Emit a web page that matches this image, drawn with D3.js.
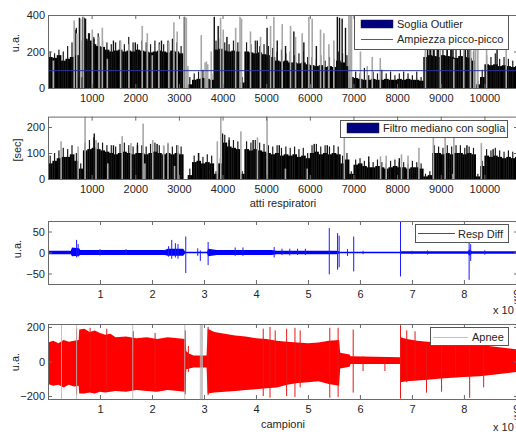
<!DOCTYPE html>
<html><head><meta charset="utf-8">
<script src="https://cdn.jsdelivr.net/npm/d3@7"></script>
<style>
body{margin:0;background:#fff;}
svg{display:block;font-family:"Liberation Sans",Arial,sans-serif;}
</style></head><body>
<svg id="c" width="516" height="432"></svg>
<script>
// ---------------- DATA ----------------
const binSize = 100; // breaths per bin
const breathMax = 10770;
const breathTicks = [1000,2000,3000,4000,5000,6000,7000,8000,9000,10000];

// Panel 1: peak-to-peak amplitude (typical level per 100 breaths)
const ampLevel = [170,165,180,150,160,170, 180,60, 270,260,240,230,225,
  210,200,205,210,200,205,200,210,205,200,195,200,205,200,195,205,200,190,
  0,20, 45,50,55,50,45, 210,215,205,200,205,200, 30,
  200,195,190,195,185,180,170, 150,145,150,140,140,135,140,130,
  125,120,125,115,120,115, 150,140,120,60,
  55,50,45,45,50,45,45,50,45,45,50,45,50,45,45,40,
  170,180,175,170,180,175,170,165,175,170,165,150, 20,60,
  130,125,130,120,125,120,115,120];
// tallest thin bar in each 100-breath bin
const ampPeak = [200,190,210,200,230,250, 330,260, 330,300,280,300,260,
  250,240,250,260,240,280,250,240,260,250,240,260,250,240,260,270,250,230,
  0,60, 80,90,100,90,80, 260,270,250,240,260,250, 60,
  250,240,260,230,240,230,220, 200,210,190,200,180,190,200,170,
  170,160,180,150,170,160, 200,190,180,100,
  90,80,110,70,90,80,100,80,90,70,80,90,80,70,90,60,
  230,250,240,230,250,240,230,220,240,230,220,200, 40,100,
  180,170,190,160,170,160,150,160];
// outlier bars (gray): [breath, value]
const ampGray = [[123,150],[600,370],[660,300],[750,380],[810,390],[1015,320],[1170,280],[1245,330],
  [1360,160],[1665,260],[1855,240],[2160,340],[2275,300],[2390,180],[2540,240],[2770,250],[2885,360],
  [2960,310],[3115,390],[3170,385],[3205,120],[3512,290],[3600,140],[3630,145],[3660,130],[3740,200],
  [3955,385],[4015,320],[4300,330],[4400,390],[4435,380],[4640,310],[4870,280],[5100,340],[5176,390],
  [5367,350],[5558,340],[5673,280],[5825,300],[5978,390],[6054,380],[6245,320],[6321,300],[6436,240],
  [6550,260],[6895,400],[6925,400],[6955,400],[7160,200],[7315,120],[7430,170],[7614,164],[8650,390],
  [8990,300],[9300,160],[9527,390],[9680,390],[9760,390],[9800,390],[9850,390],[10050,250],[10500,230]];
// tall normal bars (black): [breath, value]
const ampBlack = [[640,320],[720,385],[800,390],[830,385],[860,380],[930,300],[1055,270],[1500,260],
  [2000,250],[2600,260],[3130,390],[3810,390],[3900,340],[4100,280],[4795,260],[5020,330],[5253,260],
  [5443,230],[5634,310],[5863,250],[6150,230],[6630,390],[6680,385],[6740,380],[6817,330],[8700,390],
  [8770,390],[8830,380],[8920,390],[9145,300],[9230,390],[9280,380],[9565,390],[9620,380],[9680,385],
  [10290,230]];
const ampThreshold = 95;
const ampTicks = [0,200,400];

// Panel 2: breath intervals (typical level per 100 breaths)
const intLevel = [60,70,80,85,85, 95,70,40,110, 115,120,115,110,105,
  100,95,100,105,100,95,100,100,95,100,105,100,95,100,95,100,95,
  0,15, 65,70,60,65,60, 20,60, 140,125,120,115, 20,
  115,110,115,110,105,100, 95,100,90,95,90,95,85,90, 80,
  100,105,95,100,95,100,95, 60,75,20,
  55,60,50,45,45,50,45,40,45,50,45,45,40,45,45,40, 10,15,
  100,100,95,100,95,100,100,95,100,95, 10,50,
  90,85,90,85,80,85,80,85];
const intPeak = [90,100,110,120,115, 130,100,60,140, 150,160,140,140,130,
  130,125,135,140,130,125,140,130,125,135,140,130,125,135,125,130,125,
  0,40, 90,100,85,95,90, 30,80, 170,160,150,145, 30,
  145,140,150,140,135,130, 125,130,120,125,120,125,115,120, 100,
  130,135,125,130,125,130,125, 90,100,30,
  75,80,70,65,65,75,65,60,70,75,65,65,60,70,65,60, 20,30,
  130,125,120,130,125,130,130,120,125,120, 20,70,
  115,110,120,110,105,110,105,110];
const intGray = [[300,145],[690,125],[850,240],[1100,150],[1370,60],[1700,165],[1900,138],[2180,213],
  [2220,60],[2400,150],[2650,130],[2750,140],[2900,50],[2980,130],[3880,145],[3960,240],[4420,183],
  [4800,160],[5020,240],[5440,40],[5940,40],[6790,170],[7620,87],[7750,90],[8100,95],[8250,90],
  [8500,120],[8830,164],[9100,164],[9280,20],[9300,164],[9930,138]];
const intBlack = [[1060,175],[1500,130],[2050,130],[2500,135],[3450,100],[4000,175],[4150,150],
  [4700,150],[5300,130],[6100,135],[6400,130],[7350,87],[8050,80],[9600,130],[10200,115]];
const intTicks = [0,100,200];

// Panel 3: Resp Diff (x in units of 1e5 samples)
const sampleMax = 9.04;
const sampleTicks = [1,2,3,4,5,6,7,8,9];
const diffX  = [0,0.44,0.46,0.6,0.62,2.25,2.3,2.6,2.64,3.06,3.08,3.25,4.3,4.4,5.55,5.62,6.77,6.79,8.08,8.1,8.15,9.04];
const diffHi = [4,4,12,10,6,6,9,9,2,2,9,6,6,4,4,1.5,1.5,3,3,8,3,3];
const diffLo = [-4,-4,-9,-8,-6,-6,-8,-8,-2,-2,-9,-6,-6,-4,-4,-1.5,-1.5,-3,-3,-8,-3,-3];
const diffSpikes = [[0.55,30,-12],[0.58,20,-10],[1.0,8,-7],[1.5,8,-6],[2.32,15,-10],[2.38,30,-15],
  [2.45,22,-12],[2.5,20,-15],[2.65,38,-49],[2.88,10,-8],[2.93,5,-20],[3.08,25,-30],[3.6,12,-8],
  [3.75,12,-8],[4.35,13,-12],[4.5,9,-6],[4.65,9,-7],[4.8,9,-6],[4.95,9,-6],[5.41,58,-52],
  [5.57,46,-41],[5.6,40,-35],[5.76,8,-8],[5.88,38,-45],[6.06,4,-4],[6.78,75,-57],[7.0,4,-4],
  [7.3,5,-5],[8.1,26,-65],[8.13,20,-20],[8.4,5,-5]];
const diffTicks = [-50,0,50];

// Panel 4: Apnee (raw signal envelope)
const redX  = [0,0.1,0.2,0.3,0.4,0.5,0.59,0.6,0.7,0.8,0.9,1.0,1.1,1.2,1.3,1.5,1.7,1.9,2.1,2.3,2.5,2.64,
  2.66,2.72,2.8,3.05,3.07,3.2,3.4,3.6,3.8,4.0,4.2,4.4,4.6,4.8,5.0,5.2,5.4,5.6,5.62,5.8,5.82,6.77,
  6.78,6.9,7.1,7.3,7.5,7.7,8.0,8.3,8.6,9.04];
const redHi = [110,120,105,125,115,120,125,185,190,170,180,165,155,160,140,145,135,140,130,140,135,130,
  60,45,35,35,190,170,160,150,145,135,130,120,115,110,105,110,120,125,50,40,30,25,
  140,130,120,115,110,105,100,95,85,70];
const redLo = [-130,-140,-135,-150,-135,-145,-140,-185,-185,-180,-185,-175,-180,-175,-170,-175,-165,-170,-175,-165,-170,-175,
  -45,-40,-35,-35,-185,-180,-175,-170,-165,-160,-155,-150,-135,-125,-120,-115,-130,-140,-40,-30,-15,-15,
  -120,-115,-110,-105,-100,-95,-90,-85,-75,-60];
const redSpikes = [[0.55,190,-190],[0.81,195,-150],[1.13,190,-170],[1.64,175,-160],[2.06,165,-175],
  [2.64,180,-190],[2.70,90,-60],[3.08,200,-195],[4.14,190,-200],[4.27,200,-210],[4.37,180,-150],
  [4.59,190,-200],[4.75,195,-205],[4.85,180,-150],[5.42,195,-210],[5.58,195,-205],[5.87,185,-180],
  [6.06,30,-55],[6.48,20,-55],[6.78,210,-215],[6.90,180,-120],[7.06,175,-110],[7.28,90,-180],
  [7.57,90,-175],[7.84,130,-90],[8.11,150,-210],[8.38,80,-150]];
const apneeMarks = [0.26,0.55,1.63,2.63,2.93,2.95,2.97];
const redTicks = [-200,0,200];

// ---------------- DRAW ----------------
const svg = d3.select("#c");
const L = 48, R = 518;
const axisCol = "#6a6a6a", textCol = "#262626";

function frame(g, y, id) {
  const [y0, y1] = y.range();
  g.append("clipPath").attr("id", id).append("rect")
    .attr("x", L).attr("y", y1).attr("width", R - L).attr("height", y0 - y1);
  return g.append("g").attr("clip-path", `url(#${id})`);
}
function axes(g, x, y, xt, yt, fmtX) {
  const [y0, y1] = y.range();
  const style = s => { s.select(".domain").remove();
    s.selectAll(".tick line").attr("stroke", axisCol);
    s.selectAll(".tick text").attr("fill", textCol).style("font-size", "11px").style("font-family", "Liberation Sans, Arial, sans-serif"); };
  g.append("g").attr("transform", `translate(0,${y0})`)
    .call(d3.axisBottom(x).tickValues(xt).tickFormat(fmtX).tickSize(-4).tickPadding(6.5)).call(style);
  g.append("g").attr("transform", `translate(0,${y1})`)
    .call(d3.axisTop(x).tickValues(xt).tickFormat("").tickSize(-4)).call(style);
  g.append("g").attr("transform", `translate(${L},0)`)
    .call(d3.axisLeft(y).tickValues(yt).tickSize(-4).tickPadding(3)).call(style);
  g.append("g").attr("transform", `translate(${R},0)`)
    .call(d3.axisRight(y).tickValues(yt).tickFormat("").tickSize(-4)).call(style);
  g.append("rect").attr("x", L + 0.5).attr("y", y1 + 0.5).attr("width", R - L).attr("height", y0 - y1)
    .attr("fill", "none").attr("stroke", axisCol).attr("stroke-width", 1);
}
function ylabel(txt, x, y) {
  svg.append("text").attr("transform", `translate(${x},${y}) rotate(-90)`)
    .attr("text-anchor", "middle").attr("fill", textCol).style("font-size", "11px").text(txt);
}
function barsPanel(level, peak, gray, black, x, y, id) {
  const g = svg.append("g");
  const c = frame(g, y, id);
  const y0 = y(0);
  c.selectAll("rect.lv").data(level).join("rect")
    .attr("x", (d, i) => x(i * binSize)).attr("width", (d, i) => x((i + 1) * binSize) - x(i * binSize) + 0.3)
    .attr("y", d => y(d)).attr("height", d => y0 - y(d)).attr("fill", "#000");
  c.selectAll("rect.pk").data(peak).join("rect")
    .attr("x", (d, i) => x(i * binSize + 50) - 0.6).attr("width", 1.2)
    .attr("y", d => y(d)).attr("height", d => y0 - y(d)).attr("fill", "#1a1a1a");
  c.selectAll("rect.bk").data(black).join("rect")
    .attr("x", d => x(d[0]) - 0.7).attr("width", 1.4)
    .attr("y", d => y(d[1])).attr("height", d => y0 - y(d[1])).attr("fill", "#111");
  c.selectAll("rect.gr").data(gray).join("rect")
    .attr("x", d => x(d[0]) - 0.8).attr("width", 1.6)
    .attr("y", d => y(d[1])).attr("height", d => y0 - y(d[1])).attr("fill", "#a8a8a8");
  return { g, c };
}

// Panel 1
const x1 = d3.scaleLinear([0, breathMax], [L, R]);
const y1 = d3.scaleLinear([0, 400], [88, 15]);
const p1 = barsPanel(ampLevel, ampPeak, ampGray, ampBlack, x1, y1, "cp1");
p1.c.append("line").attr("x1", L).attr("x2", R).attr("y1", y1(ampThreshold)).attr("y2", y1(ampThreshold))
  .attr("stroke", "#2a35a0").attr("stroke-width", 1);
axes(p1.g, x1, y1, breathTicks, ampTicks, d3.format("d"));
ylabel("u.a.", 19, 43);
{ const lg = p1.g.append("g");
  lg.append("rect").attr("x", 354.5).attr("y", 15.5).attr("width", 154).attr("height", 34).attr("fill", "#fff").attr("stroke", "#555");
  lg.append("rect").attr("x", 361).attr("y", 20).attr("width", 32).attr("height", 8).attr("fill", "#000080").attr("stroke", "#222").attr("stroke-width", 0.5);
  lg.append("text").attr("x", 397).attr("y", 28).attr("fill", textCol).style("font-size", "11px").text("Soglia Outlier");
  lg.append("line").attr("x1", 361).attr("x2", 393).attr("y1", 39.5).attr("y2", 39.5).attr("stroke", "#4a55b0");
  lg.append("text").attr("x", 397).attr("y", 43).attr("fill", textCol).style("font-size", "11px").text("Ampiezza picco-picco");
}

// Panel 2
const y2 = d3.scaleLinear([0, 240], [179, 116.6]);
const p2 = barsPanel(intLevel, intPeak, intGray, intBlack, x1, y2, "cp2");
axes(p2.g, x1, y2, breathTicks, intTicks, d3.format("d"));
ylabel("[sec]", 21, 150);
svg.append("text").attr("x", (L + R) / 2).attr("y", 207).attr("text-anchor", "middle").attr("fill", textCol)
  .style("font-size", "11px").text("atti respiratori");
{ const lg = p2.g.append("g");
  lg.append("rect").attr("x", 340.5).attr("y", 120.5).attr("width", 167).attr("height", 17).attr("fill", "#fff").attr("stroke", "#555");
  lg.append("rect").attr("x", 347).attr("y", 123).attr("width", 32).attr("height", 10).attr("fill", "#000080").attr("stroke", "#222").attr("stroke-width", 0.5);
  lg.append("text").attr("x", 383).attr("y", 132).attr("fill", textCol).style("font-size", "11px").text("Filtro mediano con soglia");
}

// Panel 3
const x3 = d3.scaleLinear([0, sampleMax], [L, R]);
const y3 = d3.scaleLinear([-75, 75], [284, 221]);
{ const g = svg.append("g"); const c = frame(g, y3, "cp3");
  const pts = diffX.map((s, i) => ({ s, hi: diffHi[i], lo: diffLo[i] }));
  c.append("path").datum(pts).attr("d", d3.area().x(d => x3(d.s)).y0(d => y3(d.lo)).y1(d => y3(d.hi)))
    .attr("fill", "#0000ff");
  c.selectAll("line.sp").data(diffSpikes).join("line")
    .attr("x1", d => x3(d[0])).attr("x2", d => x3(d[0])).attr("y1", d => y3(d[1])).attr("y2", d => y3(d[2]))
    .attr("stroke", "#1a1aff").attr("stroke-width", 1);
  axes(g, x3, y3, sampleTicks, diffTicks, d3.format("d"));
  const lg = g.append("g");
  lg.append("rect").attr("x", 415.5).attr("y", 224.5).attr("width", 93).attr("height", 18).attr("fill", "#fff").attr("stroke", "#555");
  lg.append("line").attr("x1", 418).attr("x2", 455).attr("y1", 233.5).attr("y2", 233.5).attr("stroke", "#3a3aff");
  lg.append("text").attr("x", 458).attr("y", 237.5).attr("fill", textCol).style("font-size", "11px").text("Resp Diff");
}
ylabel("u.a.", 21, 249);

// Panel 4
const y4 = d3.scaleLinear([-217, 217], [399, 324]);
{ const g = svg.append("g"); const c = frame(g, y4, "cp4");
  const pts = redX.map((s, i) => ({ s, hi: redHi[i], lo: redLo[i] }));
  c.append("path").datum(pts).attr("d", d3.area().x(d => x3(d.s)).y0(d => y4(d.lo)).y1(d => y4(d.hi)))
    .attr("fill", "#ff0000");
  c.selectAll("line.sp").data(redSpikes).join("line")
    .attr("x1", d => x3(d[0])).attr("x2", d => x3(d[0])).attr("y1", d => y4(d[1])).attr("y2", d => y4(d[2]))
    .attr("stroke", "#e81818").attr("stroke-width", 1);
  c.selectAll("line.ap").data(apneeMarks).join("line")
    .attr("x1", d => x3(d)).attr("x2", d => x3(d)).attr("y1", y4(217)).attr("y2", y4(-217))
    .attr("stroke", "#b8b8b8").attr("stroke-width", 1).attr("opacity", 0.85);
  axes(g, x3, y4, sampleTicks, redTicks, d3.format("d"));
  const lg = g.append("g");
  lg.append("rect").attr("x", 430.5).attr("y", 327.5).attr("width", 78).attr("height", 18).attr("fill", "#fff").attr("stroke", "#555");
  lg.append("line").attr("x1", 433).attr("x2", 468).attr("y1", 337.5).attr("y2", 337.5).attr("stroke", "#d8b8b8");
  lg.append("text").attr("x", 472).attr("y", 341).attr("fill", textCol).style("font-size", "11px").text("Apnee");
}
ylabel("u.a.", 19, 362);
svg.append("text").attr("x", (L + R) / 2).attr("y", 428).attr("text-anchor", "middle").attr("fill", textCol)
  .style("font-size", "11px").text("campioni");

// exponent labels
[[314, 304], [431, 420]].forEach(([yb, ys]) => {
  svg.append("text").attr("x", 493).attr("y", yb).attr("fill", textCol).style("font-size", "11px").text("x 10");
  svg.append("text").attr("x", 514).attr("y", ys).attr("fill", textCol).style("font-size", "7px").text("5");
});
</script>
</body></html>
